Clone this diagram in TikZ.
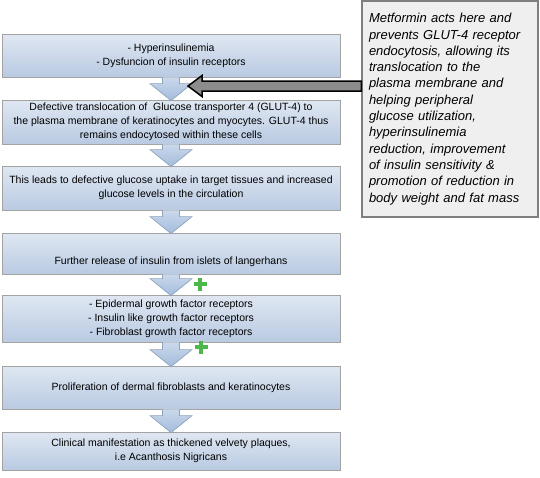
\documentclass[tikz,border=0pt]{standalone}
\usepackage{fontspec}
\setmainfont{Liberation Sans}
\usepackage{tikz}
\usetikzlibrary{calc}

\definecolor{boxtop}{HTML}{DFE7F2}
\definecolor{boxbot}{HTML}{B9CAE2}
\definecolor{boxline}{HTML}{A3A3A3}
\definecolor{arrtop}{HTML}{CAD8EB}
\definecolor{arrbot}{HTML}{A3BCDC}
\definecolor{arrline}{HTML}{8FA3BC}
\definecolor{notefill}{HTML}{EFEFEF}
\definecolor{noteline}{HTML}{7F7F7F}
\definecolor{plusgreen}{HTML}{4DB84A}

\newcommand{\flowarrow}[2]{%
  \draw[flowarr] ($(#1.south)+(-8.5,0)$) -- ($(#2.north)+(-8.5,-16)$) -- ($(#2.north)+(-21,-16)$)
     -- ($(#2.north)+(0,1)$) -- ($(#2.north)+(21,-16)$) -- ($(#2.north)+(8.5,-16)$) -- ($(#1.south)+(8.5,0)$);}

\begin{document}
\begin{tikzpicture}[x=1pt,y=-1pt,
    box/.style={draw=boxline, line width=0.8pt, top color=boxtop, bottom color=boxbot,
      minimum width=338pt, align=center, inner sep=2pt,
      font=\fontsize{10.5}{14}\selectfont},
    flowarr/.style={draw=arrline, line width=0.7pt, top color=arrtop, bottom color=arrbot},
    bigarr/.style={draw=black, line width=1.5pt, fill=black!45, line join=miter},
    note/.style={draw=noteline, line width=1.5pt, fill=notefill, minimum width=176pt,
      minimum height=216pt, text width=162pt, align=left, inner xsep=7pt,
      font=\fontsize{13}{16.3}\selectfont\itshape},
    plusmark/.style={draw=plusgreen, line width=4pt}]
   \useasboundingbox (0,0) rectangle (540,477);

   \draw (171,55.5) node[box, minimum height=43pt] (hyper) {- Hyperinsulinemia\\- Dysfuncion of insulin receptors};
   \draw (171,122) node[box, minimum height=44pt] (glut) {Defective translocation of\ \ Glucose transporter 4 (GLUT-4) to\\the plasma membrane of keratinocytes and myocytes. GLUT-4 thus\\remains endocytosed within these cells};
   \draw (171,188) node[box, minimum height=44pt] (uptake) {This leads to defective glucose uptake in target tissues and increased\\glucose levels in the circulation};
   \draw (171,253.5) node[box, minimum height=41pt, text height=26pt, text depth=4pt] (release) {Further release of insulin from islets of langerhans};
   \draw (171,318.5) node[box, minimum height=47pt] (receptors) {- Epidermal growth factor receptors\\- Insulin like growth factor receptors\\- Fibroblast growth factor receptors};
   \draw (171,387.5) node[box, minimum height=43pt] (prolif) {Proliferation of dermal fibroblasts and keratinocytes};
   \draw (171,451) node[box, minimum height=38pt] (clinical) {Clinical manifestation as thickened velvety plaques,\\i.e Acanthosis Nigricans};

   \flowarrow{hyper}{glut}
   \flowarrow{glut}{uptake}
   \flowarrow{uptake}{release}
   \flowarrow{release}{receptors}
   \flowarrow{receptors}{prolif}
   \flowarrow{prolif}{clinical}

   \coordinate (plusA) at (200,284);
   \coordinate (plusB) at (201,347);
   \draw[plusmark] ($(plusA)+(-6.5,0)$) -- ($(plusA)+(6.5,0)$) ($(plusA)+(0,-6.5)$) -- ($(plusA)+(0,6.5)$);
   \draw[plusmark] ($(plusB)+(-6.5,0)$) -- ($(plusB)+(6.5,0)$) ($(plusB)+(0,-6.5)$) -- ($(plusB)+(0,6.5)$);

   \coordinate (metTip) at (188,86);
   \draw (450,109) node[note] (metformin) {Metformin acts here and\\prevents GLUT-4 receptor\\endocytosis, allowing its\\translocation to the\\plasma membrane and\\helping peripheral\\glucose utilization,\\hyperinsulinemia\\reduction, improvement\\of insulin sensitivity \&\\promotion of reduction in\\body weight and fat mass};
   \draw[bigarr] (metTip) -- ($(metTip)+(14,-10.5)$) -- ($(metTip)+(14,-5)$) -- ($(metTip -| metformin.west)+(0,-5)$)
      -- ($(metTip -| metformin.west)+(0,5)$) -- ($(metTip)+(14,5)$) -- ($(metTip)+(14,10.5)$) -- cycle;
\end{tikzpicture}
\end{document}
